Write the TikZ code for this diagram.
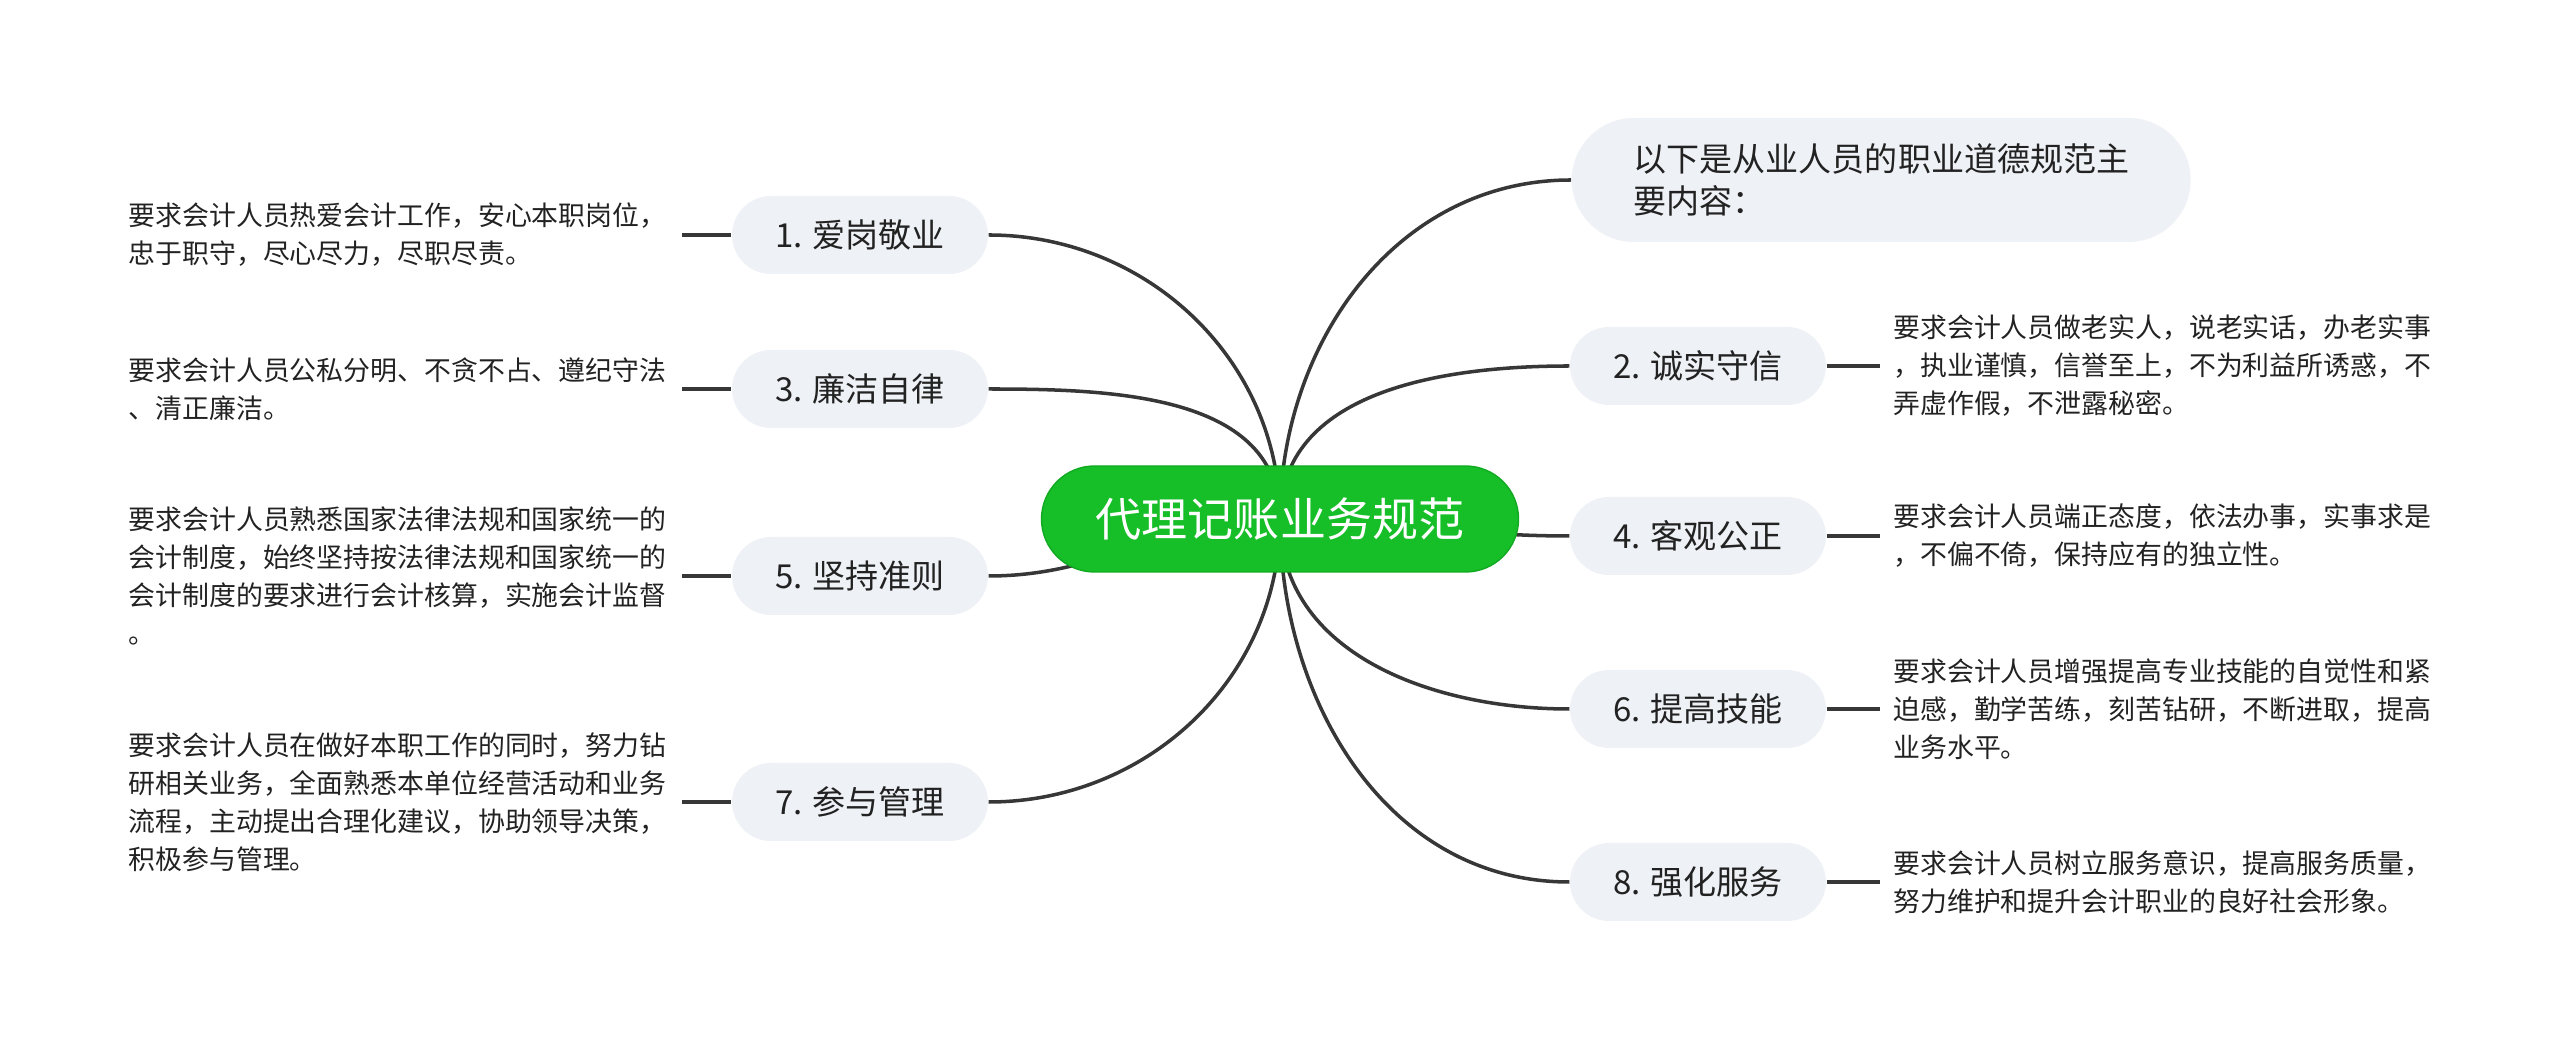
\documentclass[tikz,border=0pt]{standalone}
\usepackage{fontspec}
\setmainfont{Noto Sans CJK SC}
\usetikzlibrary{positioning,backgrounds}
\definecolor{rootgreen}{RGB}{22,190,40}
\definecolor{rootedge}{RGB}{18,170,34}
\definecolor{topicgray}{RGB}{238,241,245}
\definecolor{linegray}{RGB}{55,55,55}
\definecolor{textgray}{RGB}{34,34,34}
\tikzset{
  mmroot/.style={fill=rootgreen, draw=rootedge, line width=0.4pt, rounded corners=0.53cm,
    minimum width=4.77cm, minimum height=1.06cm, text=white, font=\fontsize{13.1pt}{15pt}\selectfont},
  mmtopic/.style={fill=topicgray, rounded corners=0.39cm, minimum width=2.56cm, minimum height=0.78cm,
    inner sep=0pt, text=textgray, font=\fontsize{9.4pt}{12pt}\selectfont},
  mmdesc/.style={align=left, text width=5.40cm, inner xsep=0.13cm, text=textgray,
    font=\fontsize{7.65pt}{10.8pt}\selectfont},
  mmbranch/.style={draw=linegray, line width=1pt},
  mmlink/.style={draw=linegray, line width=1.3pt},
}
\begin{document}
\begin{tikzpicture}
  \useasboundingbox (0,0) rectangle (25.6,10.45);
  \node[mmroot] (root) at (12.80,5.26) {代理记账业务规范};

  % left side
  \node[mmtopic] (t1) at (8.60,8.10) {1. 爱岗敬业};
  \node[mmtopic] (t3) at (8.60,6.56) {3. 廉洁自律};
  \node[mmtopic] (t5) at (8.60,4.69) {5. 坚持准则};
  \node[mmtopic] (t7) at (8.60,2.43) {7. 参与管理};
  \node[mmdesc, left=0.49cm of t1] (d1) {要求会计人员热爱会计工作，安心本职岗位，\\忠于职守，尽心尽力，尽职尽责。};
  \node[mmdesc, left=0.49cm of t3] (d3) {要求会计人员公私分明、不贪不占、遵纪守法\\、清正廉洁。};
  \node[mmdesc, left=0.49cm of t5] (d5) {要求会计人员熟悉国家法律法规和国家统一的\\会计制度，始终坚持按法律法规和国家统一的\\会计制度的要求进行会计核算，实施会计监督\\。};
  \node[mmdesc, left=0.49cm of t7] (d7) {要求会计人员在做好本职工作的同时，努力钻\\研相关业务，全面熟悉本单位经营活动和业务\\流程，主动提出合理化建议，协助领导决策，\\积极参与管理。};

  % right side
  \node[mmtopic, rounded corners=0.62cm, minimum height=1.24cm, anchor=west, align=left,
    text width=4.95cm, inner xsep=0.62cm] (intro) at (15.71,8.65)
    {\baselineskip=12.5pt 以下是从业人员的职业道德规范主\\要内容：};
  \node[mmtopic] (t2) at (16.98,6.79) {2. 诚实守信};
  \node[mmtopic] (t4) at (16.98,5.09) {4. 客观公正};
  \node[mmtopic] (t6) at (16.98,3.36) {6. 提高技能};
  \node[mmtopic] (t8) at (16.98,1.63) {8. 强化服务};
  \node[mmdesc, right=0.53cm of t2] (d2) {要求会计人员做老实人，说老实话，办老实事\\，执业谨慎，信誉至上，不为利益所诱惑，不\\弄虚作假，不泄露秘密。};
  \node[mmdesc, right=0.53cm of t4] (d4) {要求会计人员端正态度，依法办事，实事求是\\，不偏不倚，保持应有的独立性。};
  \node[mmdesc, right=0.53cm of t6] (d6) {要求会计人员增强提高专业技能的自觉性和紧\\迫感，勤学苦练，刻苦钻研，不断进取，提高\\业务水平。};
  \node[mmdesc, right=0.53cm of t8] (d8) {要求会计人员树立服务意识，提高服务质量，\\努力维护和提升会计职业的良好社会形象。};

  \begin{scope}[on background layer]
    \foreach \t in {t1,t3}
      \draw[mmbranch] (root.center) to[out=90,in=0] (\t.east);
    \draw[mmbranch] (root.center) to[out=180,in=0] (t5.east);
    \draw[mmbranch] (root.center) to[out=270,in=0] (t7.east);
    \foreach \t in {intro,t2}
      \draw[mmbranch] (root.center) to[out=90,in=180] (\t.west);
    \draw[mmbranch] (root.center) to[out=0,in=180] (t4.west);
    \foreach \t in {t6,t8}
      \draw[mmbranch] (root.center) to[out=270,in=180] (\t.west);
  \end{scope}

  \foreach \t/\d in {t1/d1,t3/d3,t5/d5,t7/d7}
    \draw[mmlink] (\d.east) -- (\t.west);
  \foreach \t/\d in {t2/d2,t4/d4,t6/d6,t8/d8}
    \draw[mmlink] (\t.east) -- (\d.west);
\end{tikzpicture}
\end{document}
